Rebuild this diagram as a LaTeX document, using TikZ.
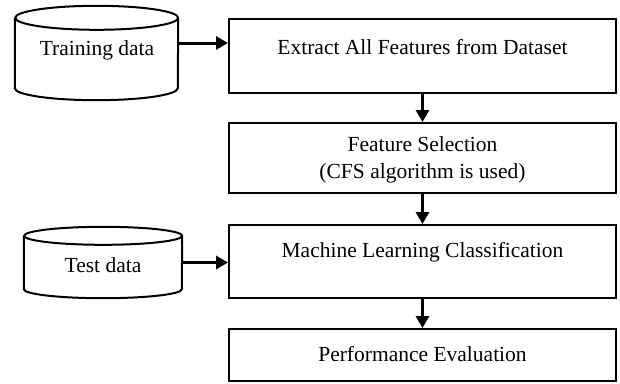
\documentclass[tikz,border=0pt]{standalone}
\usepackage{fontspec}
\setmainfont{Liberation Serif}
\usetikzlibrary{arrows.meta}
\begin{document}
\begin{tikzpicture}[x=1pt,y=-1pt,
  box/.style={draw, line width=2pt, rectangle, minimum width=387pt, inner sep=0pt},
  txt/.style={font=\fontsize{21.5}{27}\selectfont, inner sep=0pt, align=center},
  arr/.style={line width=3pt, -{Triangle[length=12pt,width=13pt]}},
  cyl/.style={line width=2pt},
  hold/.style={inner sep=0pt, rectangle}]
\useasboundingbox (0,0) rectangle (620,383);
% boxes
\node[box, minimum height=74pt] (b1) at (422.5,56) {};
\node[box, minimum height=70pt] (b2) at (422.5,158) {};
\node[box, minimum height=73pt] (b3) at (422.5,261.5) {};
\node[box, minimum height=52pt] (b4) at (422.5,355) {};
\node[txt] (t1) at (422.5,47) {Extract All Features from Dataset};
\node[txt] (t2) at (422.5,160) {Feature Selection\\(CFS algorithm is used)};
\node[txt] (t3) at (422.5,252) {Machine Learning Classification};
\node[txt] (t4) at (422.5,354) {Performance Evaluation};
% cylinders (holder nodes)
\node[hold, minimum width=163pt, minimum height=70pt] (train) at (96.5,53) {};
\node[txt] (ttrain) at (97,50) {Training data};
\draw[cyl] (train.north west) -- (train.south west)
  arc[start angle=180, end angle=360, x radius=81.5pt, y radius=12pt]
  -- (train.north east)
  arc[start angle=0, end angle=360, x radius=81.5pt, y radius=12pt];
\node[hold, minimum width=158pt, minimum height=53pt] (test) at (103,262.5) {};
\node[txt] (ttest) at (103,265) {Test data};
\draw[cyl] (test.north west) -- (test.south west)
  arc[start angle=180, end angle=360, x radius=79pt, y radius=9pt]
  -- (test.north east)
  arc[start angle=0, end angle=360, x radius=79pt, y radius=9pt];
% connectors
\draw[arr] ([yshift=10pt]train.east) -- ([yshift=10pt]train.east -| b1.west);
\draw[arr] (test.east) -- (test.east -| b3.west);
\draw[arr] (b1.south) -- (b2.north);
\draw[arr] (b2.south) -- (b3.north);
\draw[arr] (b3.south) -- (b4.north);
\end{tikzpicture}
\end{document}
